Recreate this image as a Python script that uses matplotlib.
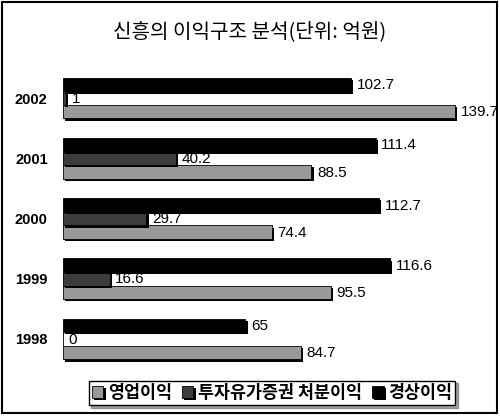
import numpy as np
import matplotlib.pyplot as plt
import matplotlib.patheffects as pe
from matplotlib.patches import Rectangle

plt.rcParams['font.family'] = ['Noto Sans CJK KR', 'DejaVu Sans']

# data (억원)
years = ['1998', '1999', '2000', '2001', '2002']
op_profit = [84.7, 95.5, 74.4, 88.5, 139.7]      # 영업이익
sec_gain = [0, 16.6, 29.7, 40.2, 1]              # 투자유가증권 처분이익
ord_profit = [65, 116.6, 112.7, 111.4, 102.7]    # 경상이익
series_names = ['영업이익', '투자유가증권 처분이익', '경상이익']
colors = ['#999999', '#3c3c3c', '#000000']

fig = plt.figure(figsize=(5.0, 4.18), dpi=100)
# outer frame
fig.patches.append(Rectangle((2 / 500, 1 - 413 / 418), 495 / 500, 411 / 418,
                             transform=fig.transFigure, fill=False,
                             edgecolor='black', linewidth=1.5))

fig.text(0.5, 1 - 32 / 418, '신흥의 이익구조 분석(단위: 억원)', ha='center', va='center',
         fontsize=14.5)

ax = fig.add_axes([63 / 500, 1 - 380 / 418, 417 / 500, 320 / 418])
y = np.arange(len(years))
h = 0.225
shadow = [pe.SimplePatchShadow(offset=(1.6, -1.6), shadow_rgbFace='black', alpha=1), pe.Normal()]

offsets = [-h, 0, h]
for vals, off, col, name in zip([op_profit, sec_gain, ord_profit], offsets, colors, series_names):
    bars = ax.barh(y + off, vals, height=h, color=col, edgecolor='black', linewidth=0.6,
                   zorder=3, label=name)
    for b in bars:
        b.set_path_effects(shadow)
    for yy, v in zip(y + off, vals):
        ax.text(v + 2.0, yy - 0.01, f'{v:g}', ha='left', va='center', fontsize=11,
                family='Liberation Sans', zorder=2)

ax.set_xlim(0, 148.6)
ax.set_ylim(-0.681, 4.634)
ax.set_yticks(y)
ax.set_yticklabels(years, fontsize=10.5, fontweight='bold', family='Liberation Sans')
ax.tick_params(axis='y', length=0, pad=11)
ax.set_xticks([])
for s in ax.spines.values():
    s.set_visible(False)

leg = fig.legend(loc='center', bbox_to_anchor=(272 / 500, 1 - 393 / 418), ncol=3,
                 fontsize=12.5, frameon=True, fancybox=False, shadow=True,
                 handlelength=0.65, handleheight=0.65, handletextpad=0.25,
                 columnspacing=0.6, borderpad=0.2, borderaxespad=0)
leg.get_frame().set_edgecolor('black')
leg.get_frame().set_linewidth(1.0)
for t in leg.get_texts():
    t.set_fontweight('bold')

fig.savefig('out.png', dpi=100)
